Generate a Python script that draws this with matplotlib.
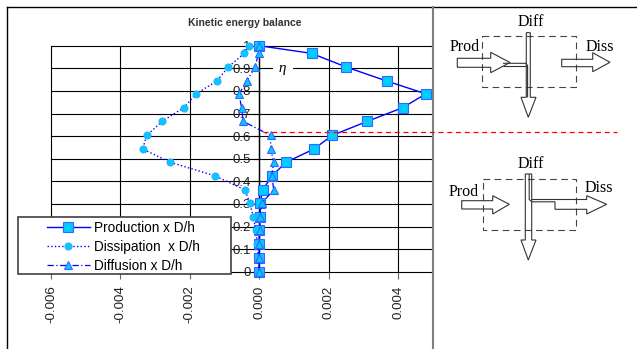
import matplotlib
matplotlib.use('Agg')
import matplotlib.pyplot as plt
from matplotlib.patches import Polygon, Rectangle

# eta = y/h, shared by the three profiles
eta = [0.0, 0.061, 0.122, 0.184, 0.243, 0.303, 0.362, 0.424, 0.484,
       0.543, 0.603, 0.665, 0.726, 0.787, 0.844, 0.906, 0.966, 1.0]
production = [0.0, 0.0, 0.0, 0.0, 0.00003, 0.00003, 0.0001, 0.00037, 0.00077,
              0.00158, 0.0021, 0.00311, 0.00414, 0.0048, 0.00367, 0.0025, 0.00151, 0.0]
dissipation = [0.0, -0.00002, -0.00005, -0.0001, -0.00017, -0.00027, -0.00041, -0.00127, -0.00256,
               -0.00336, -0.00324, -0.0028, -0.00217, -0.00182, -0.00122, -0.00089, -0.00043, -0.00029]
diffusion = [0.0, 0.0, 0.0, 0.00003, 0.00002, 0.00007, 0.00042, 0.00036, 0.00042,
             0.00033, 0.00033, -0.00046, -0.00051, -0.00058, -0.00035, -0.00012, -0.00002, 0.0]

legend_labels = ['Production x D/h', 'Dissipation  x D/h', 'Diffusion x D/h']
x_ticks = [-0.006, -0.004, -0.002, 0.0, 0.002, 0.004]
x_labels = ['-0.006', '-0.004', '-0.002', '0.000', '0.002', '0.004']
y_ticks = [0, 0.1, 0.2, 0.3, 0.4, 0.5, 0.6, 0.7, 0.8, 0.9, 1.0]
y_labels = ['0', '0.1', '0.2', '0.3', '0.4', '0.5', '0.6', '0.7', '0.8', '0.9', '1']
eta_split = 0.62   # red dashed line level

plt.rcParams['font.family'] = ['Liberation Sans', 'DejaVu Sans']

W, H = 637, 349
fig = plt.figure(figsize=(6.37, 3.49), dpi=100)


def fx(px):
    return px / W


def fy(py):
    return 1 - py / H


# main plot
ax = fig.add_axes([fx(51), fy(271.7), fx(432.7) - fx(51), fy(45.7) - fy(271.7)])
face = '#00CCFF'
l1, = ax.plot(production, eta, color='blue', lw=1, marker='s', ms=6.5,
              mfc=face, mec='#3366FF', mew=0.8, zorder=3, clip_on=False)
l2, = ax.plot(dissipation, eta, color='blue', lw=1, ls=':', marker='o', ms=5,
              mfc=face, mec='#33AAFF', mew=0.8, zorder=4, clip_on=False)
l3, = ax.plot(diffusion, eta, color='blue', lw=0.9, ls=(0, (5, 2, 1, 2)), marker='^', ms=5.5,
              mfc=face, mec='#3366FF', mew=0.8, zorder=5, clip_on=False)

ax.set_xlim(-0.006, 0.005)
ax.set_ylim(0, 1)
for s in ['top', 'right', 'bottom']:
    ax.spines[s].set_visible(False)
ax.spines['left'].set_position(('data', 0))
ax.spines['left'].set_linewidth(1)
ax.set_xticks(x_ticks)
ax.set_xticklabels(x_labels, rotation=90)
ax.set_yticks(y_ticks)
ax.set_yticklabels(y_labels)
ax.tick_params(axis='x', direction='out', length=5, pad=5, labelsize=9.6,
               color='#666666', labelcolor='#222222')
ax.tick_params(axis='y', direction='out', length=4, pad=2, labelsize=9.5,
               labelcolor='#222222')
ax.grid(True, color='black', lw=0.8)
for gl in ax.get_xgridlines() + ax.get_ygridlines():
    gl.set_clip_on(False)

ax.text(0.00068, 0.9, ' \u03b7 ', family='Liberation Serif', style='italic', fontsize=11,
        ha='center', va='center', zorder=6,
        bbox=dict(facecolor='white', edgecolor='none', boxstyle='square,pad=0.15'))

# overlay in figure pixels (y down) for frame, legend box and sketches
ov = fig.add_axes([0, 0, 1, 1], zorder=1)
ov.set_xlim(0, W)
ov.set_ylim(H, 0)
ov.axis('off')
ov.patch.set_alpha(0)

ov.plot([7, W], [7, 7], color='black', lw=1.0)
ov.plot([7, 7], [7, H], color='black', lw=1.0)
ov.plot([432.7, 432.7], [7, H], color='#808080', lw=1.5)

x0, y0 = ax.transData.transform((0.0001, eta_split))
ov.plot([x0, 617], [H - y0, H - y0], color='red', lw=0.9, ls=(0, (4, 3)))

ov.add_patch(Rectangle((18, 216.7), 213, 57.3, facecolor='white', edgecolor='#404040', lw=1.2))

ink = '#333333'
serif = dict(family='Liberation Serif', fontsize=11.5, ha='center', va='center', color='black')


def shape(pts, closed=True):
    ov.add_patch(Polygon(pts, closed=closed, fill=False, edgecolor=ink, lw=0.8))


# top sketch
ov.add_patch(Rectangle((482.3, 35.7), 93.7, 51.6, fill=False, edgecolor='#444444',
                       lw=0.8, ls=(0, (6, 4))))
shape([(457.3, 58.3), (490.7, 58.3), (490.7, 52.3), (510, 62.5), (490.7, 72.7),
       (490.7, 67.3), (457.3, 67.3)])
shape([(526.3, 32.7), (530.3, 32.7), (530.3, 97.3), (536, 97.3), (528.3, 117.3),
       (521, 97.3), (526.3, 97.3)])
shape([(503, 63.3), (525.5, 63.3), (527.6, 65.5), (527.6, 97.3)], closed=False)
shape([(503, 65.8), (526.3, 65.8)], closed=False)
shape([(561.7, 59.3), (592.7, 59.3), (592.7, 52.7), (610, 62.3), (592.7, 71.7),
       (592.7, 66.7), (561.7, 66.7)])
ov.text(530.5, 21.7, 'Diff', **serif)
ov.text(465, 47.3, 'Prod', **serif)
ov.text(599.5, 47.3, 'Diss', **serif)

# bottom sketch
ov.add_patch(Rectangle((482.7, 179), 93.3, 51, fill=False, edgecolor='#444444',
                       lw=0.8, ls=(0, (6, 4))))
shape([(461.7, 200.7), (492.7, 200.7), (492.7, 195.7), (509.3, 204.3), (492.7, 214),
       (492.7, 209), (461.7, 209)])
shape([(525.3, 174), (531.7, 174), (531.7, 240), (536, 240), (528.3, 260),
       (521, 240), (525.3, 240)])
shape([(529.2, 174), (529.2, 199.5), (531.2, 201.3)], closed=False)
shape([(531.7, 199.5), (586.7, 199.5), (586.7, 195.7), (606.7, 204.3), (586.7, 214),
       (586.7, 209.3), (555, 209.3), (555, 201.8), (531.7, 201.8)], closed=False)
ov.text(530.5, 164, 'Diff', **serif)
ov.text(463.8, 191.7, 'Prod', **serif)
ov.text(599, 187.5, 'Diss', **serif)

fig.text(fx(245), fy(23), 'Kinetic energy balance', fontsize=7.5, fontweight='bold',
         color='#333333', ha='center', va='center')

fig.legend([l1, l2, l3], legend_labels, loc='upper left',
           bbox_to_anchor=(fx(46.7), fy(221)), frameon=False, borderpad=0,
           borderaxespad=0, handlelength=3.2, handletextpad=0.3, labelspacing=0.35,
           prop={'family': 'Liberation Sans', 'size': 9.8})

fig.savefig('out.png', dpi=100)
